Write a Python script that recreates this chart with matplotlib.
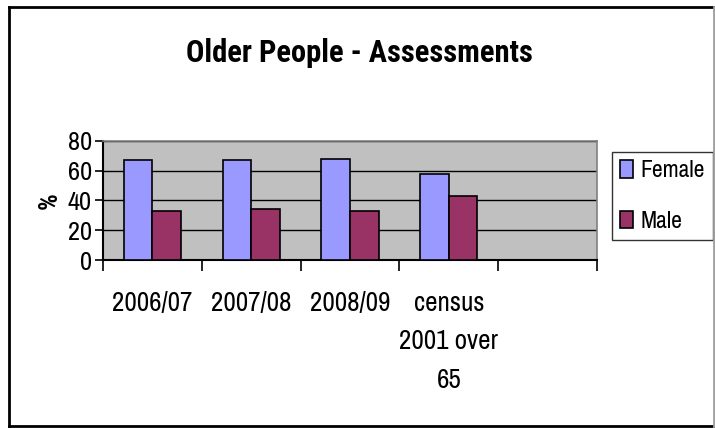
import matplotlib.pyplot as plt
import matplotlib.font_manager as fm
from matplotlib.lines import Line2D
import numpy as np

plt.rcParams['font.family'] = ['Archivo Narrow', 'Liberation Sans', 'DejaVu Sans']


def first_bold_family(candidates):
    # pick the first narrow family that ships a real bold face
    for name in candidates:
        for f in fm.fontManager.ttflist:
            wt = f.weight if isinstance(f.weight, int) else fm.weight_dict.get(f.weight, 400)
            if f.name == name and wt >= 700:
                return name
    return 'Liberation Sans'


bold_family = first_bold_family(['Roboto Condensed', 'PT Sans Narrow', 'Archivo Narrow',
                                 'Asap Condensed', 'Saira Condensed'])

# categories (last slot is left empty on the chart)
categories = ['2006/07', '2007/08', '2008/09', 'census\n2001 over\n65', '']
female = [67, 67, 68, 58, np.nan]
male = [33, 34, 33, 43, np.nan]

female_color = '#9999FF'
male_color = '#993366'

fig = plt.figure(figsize=(7.15, 4.28), dpi=100)
ax = fig.add_axes([0.144, 0.3925, 0.691, 0.2781])

x = np.arange(len(categories))
w = 0.29
ax.bar(x - w / 2, female, w, color=female_color, edgecolor='black', linewidth=1.2,
       label='Female', zorder=3)
ax.bar(x + w / 2, male, w, color=male_color, edgecolor='black', linewidth=1.2,
       label='Male', zorder=3)

ax.set_facecolor('#C0C0C0')
ax.set_xlim(-0.5, len(categories) - 0.5)
ax.set_ylim(0, 80)
ax.set_yticks([0, 20, 40, 60, 80])
ax.yaxis.grid(True, color='black', linewidth=1.0, zorder=1)
ax.set_axisbelow(True)

# category ticks sit on slot boundaries, labels in slot centres
ax.set_xticks(np.arange(len(categories) + 1) - 0.5)
ax.set_xticklabels([])
ax.set_xticks(x, minor=True)
ax.set_xticklabels(categories, minor=True, fontsize=19.5, linespacing=1.68)
ax.tick_params(axis='x', which='minor', length=0, pad=22)
ax.tick_params(axis='x', which='major', length=8, width=1.2, direction='out')
ax.tick_params(axis='y', length=6, width=1.2, labelsize=19, pad=2)

for side in ['top', 'right']:
    ax.spines[side].set_color('#808080')
    ax.spines[side].set_linewidth(1.2)
for side in ['left', 'bottom']:
    ax.spines[side].set_color('black')
    ax.spines[side].set_linewidth(1.5)

ax.set_ylabel('%', fontsize=19, fontweight='bold', family=bold_family, labelpad=4)

leg = ax.legend(loc='upper left', bbox_to_anchor=(1.03, 0.908), fontsize=17,
                frameon=True, fancybox=False, edgecolor='black', handlelength=0.55,
                handleheight=0.75, handletextpad=0.3, borderpad=0.35, labelspacing=1.25,
                borderaxespad=0)
leg.get_frame().set_linewidth(1.0)

fig.text(0.503, 0.877, 'Older People - Assessments', ha='center', va='center',
         fontsize=22, fontweight='bold', family=bold_family)

# outer frame of the chart
x0, x1 = 8.5 / 715, 713.5 / 715
y0, y1 = 2.5 / 428, 421.5 / 428
for xs, ys, c in [([x0, x0], [y0, y1], 'black'), ([x0, x1], [y1, y1], 'black'),
                  ([x0, x1], [y0, y0], 'black'), ([x1, x1], [y0, y1], '#A0A0A0')]:
    fig.add_artist(Line2D(xs, ys, transform=fig.transFigure, color=c, linewidth=2))

fig.savefig('out.png', dpi=100)
